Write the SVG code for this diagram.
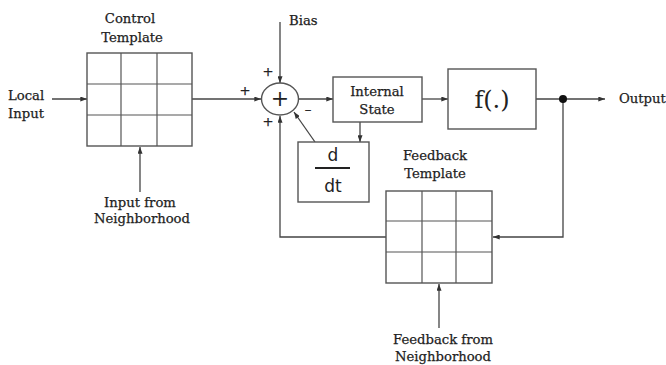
<svg xmlns="http://www.w3.org/2000/svg" width="666" height="365" viewBox="0 0 666 365">
<style>
.ln{stroke:#444;stroke-width:1.3;fill:none}
.bx{stroke:#555;stroke-width:1.4;fill:#fff}
.gr{stroke:#555;stroke-width:1.2;fill:none}
.t{font-family:"DejaVu Serif",serif;font-size:13.2px;fill:#222;stroke:#222;stroke-width:0.25;text-anchor:middle}
.tl{font-family:"DejaVu Serif",serif;font-size:13.2px;fill:#222;stroke:#222;stroke-width:0.25}
</style>
<defs>
<marker id="ah" viewBox="0 0 8 6" refX="8" refY="3" markerWidth="7" markerHeight="5" orient="auto" markerUnits="userSpaceOnUse">
<path d="M0,0 L8,3 L0,6 z" fill="#333"/>
</marker>
</defs>
<rect width="666" height="365" fill="#fff"/>
<g id="connectors">
<line class="ln" x1="52" y1="99" x2="87" y2="99" marker-end="url(#ah)"/>
<line class="ln" x1="140" y1="192" x2="140" y2="147" marker-end="url(#ah)"/>
<line class="ln" x1="192" y1="99" x2="261" y2="99" marker-end="url(#ah)"/>
<line class="ln" x1="280" y1="22" x2="280" y2="83" marker-end="url(#ah)"/>
<line class="ln" x1="299" y1="99" x2="333" y2="99" marker-end="url(#ah)"/>
<line class="ln" x1="360" y1="122" x2="360" y2="142" marker-end="url(#ah)"/>
<line class="ln" x1="315" y1="142" x2="294" y2="112" marker-end="url(#ah)"/>
<polyline class="ln" points="386,237 280,237 280,116" marker-end="url(#ah)"/>
<line class="ln" x1="422" y1="99" x2="448" y2="99" marker-end="url(#ah)"/>
<line class="ln" x1="536" y1="99" x2="605" y2="99" marker-end="url(#ah)"/>
<polyline class="ln" points="563,99 563,237 493,237" marker-end="url(#ah)"/>
<line class="ln" x1="439" y1="328" x2="439" y2="284" marker-end="url(#ah)"/>
<circle cx="563" cy="99" r="4" fill="#111"/>
</g>
<g id="local-input">
<text class="tl" x="8" y="100">Local</text>
<text class="tl" x="8" y="118">Input</text>
</g>
<g id="control-template">
<text class="t" x="130" y="23">Control</text>
<text class="t" x="132" y="42">Template</text>
<rect class="bx" x="87" y="53" width="105" height="93"/>
<path class="gr" d="M121,53V146M157,53V146M87,84H192M87,115H192"/>
</g>
<g id="input-neighborhood">
<text class="t" x="140" y="207">Input from</text>
<text class="t" x="142" y="223">Neighborhood</text>
</g>
<g id="sum">
<ellipse class="bx" cx="280" cy="99" rx="18.5" ry="16"/>
<text x="280" y="106" font-family="DejaVu Serif,serif" font-size="22" fill="#222" text-anchor="middle">+</text>
<text class="t" x="268" y="76">+</text>
<text class="t" x="245" y="95">+</text>
<text class="t" x="268" y="126">+</text>
<text class="t" x="308" y="114">–</text>
</g>
<g id="bias">
<text class="tl" x="289" y="25">Bias</text>
</g>
<g id="internal-state">
<rect class="bx" x="333" y="77" width="89" height="45"/>
<text class="t" x="377" y="96">Internal</text>
<text class="t" x="377" y="114">State</text>
</g>
<g id="ddt">
<rect class="bx" x="298" y="142" width="71" height="60"/>
<text x="333" y="161" font-family="DejaVu Sans,sans-serif" font-size="17" fill="#222" text-anchor="middle">d</text>
<line x1="315" y1="168" x2="350" y2="168" stroke="#222" stroke-width="2"/>
<text x="333" y="192" font-family="DejaVu Sans,sans-serif" font-size="17" fill="#222" text-anchor="middle">dt</text>
</g>
<g id="f">
<rect class="bx" x="448" y="69" width="88" height="60"/>
<text x="492" y="108" font-family="DejaVu Serif,serif" font-size="24" fill="#222" text-anchor="middle">f(.)</text>
</g>
<g id="output">
<text class="tl" x="619" y="103">Output</text>
</g>
<g id="feedback-template">
<text class="t" x="435" y="160">Feedback</text>
<text class="t" x="435" y="178">Template</text>
<rect class="bx" x="386" y="191" width="106" height="92"/>
<path class="gr" d="M422,191V283M456,191V283M386,221H492M386,252H492"/>
</g>
<g id="feedback-neighborhood">
<text class="t" x="443" y="344">Feedback from</text>
<text class="t" x="443" y="361">Neighborhood</text>
</g>
</svg>
